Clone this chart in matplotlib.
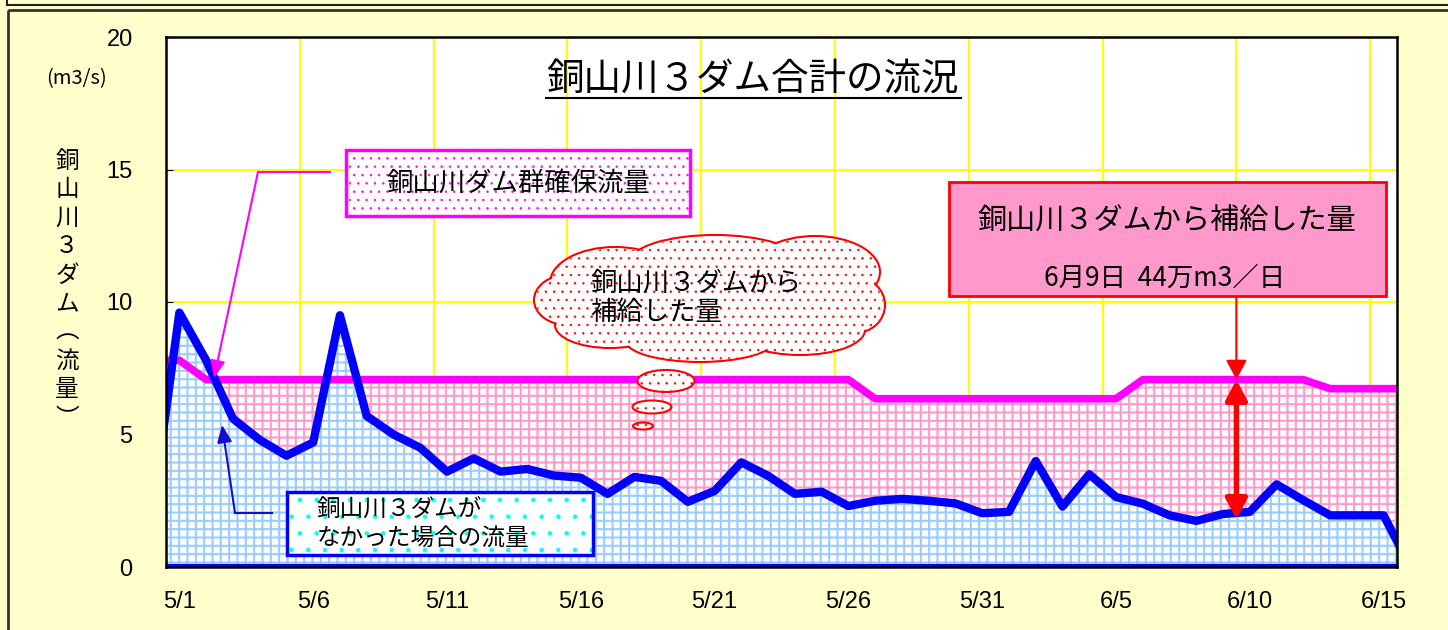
import numpy as np
import matplotlib.pyplot as plt
from matplotlib.patches import Rectangle, Ellipse

plt.rcParams['font.family'] = ['Noto Sans CJK JP', 'DejaVu Sans']
plt.rcParams['hatch.linewidth'] = 1.5

# daily values 4/30 .. 6/16 (first and last fall just outside the axis)
no_dam_flow = [2.2, 9.6, 7.8, 5.6, 4.8, 4.2, 4.7, 9.5, 5.7, 5.0,
               4.5, 3.6, 4.1, 3.6, 3.7, 3.45, 3.37, 2.76, 3.4, 3.25,
               2.46, 2.87, 3.95, 3.44, 2.76, 2.84, 2.3, 2.5, 2.57, 2.5,
               2.4, 2.03, 2.08, 4.0, 2.28, 3.5, 2.64, 2.39, 1.95, 1.74,
               2.0, 2.08, 3.12, 2.52, 1.95, 1.95, 1.95, 0.0]
secured_flow = [7.8, 7.8, 7.07, 7.07, 7.07, 7.07, 7.07, 7.07, 7.07, 7.07,
                7.07, 7.07, 7.07, 7.07, 7.07, 7.07, 7.07, 7.07, 7.07, 7.07,
                7.07, 7.07, 7.07, 7.07, 7.07, 7.07, 7.07, 6.35, 6.35, 6.35,
                6.35, 6.35, 6.35, 6.35, 6.35, 6.35, 6.35, 7.07, 7.07, 7.07,
                7.07, 7.07, 7.07, 7.07, 6.73, 6.73, 6.73, 6.73]
tick_days = [0, 5, 10, 15, 20, 25, 30, 35, 40, 45]
tick_labels = ['5/1', '5/6', '5/11', '5/16', '5/21', '5/26', '5/31', '6/5', '6/10', '6/15']
y_ticks = [0, 5, 10, 15, 20]

x = np.arange(len(no_dam_flow)) - 0.5


def dotted(p, lw=0.5):
    # thinner hatch lines for the dotted fills, where supported
    if hasattr(p, 'set_hatch_linewidth'):
        p.set_hatch_linewidth(lw)
    return p


fig = plt.figure(figsize=(14.48, 6.3), dpi=100, facecolor='#FFFFCC')
ax = fig.add_axes([166 / 1448, 63 / 630, 1231 / 1448, 530 / 630])
ax.set_facecolor('white')

ax.fill_between(x, 0, secured_flow, facecolor='white', edgecolor='#FF99CC',
                hatch='++', lw=0, zorder=1)
ax.fill_between(x, 0, no_dam_flow, facecolor='white', edgecolor='#99CCFF',
                hatch='++', lw=0, zorder=1.1)
ax.plot(x, secured_flow, color='#FF00FF', lw=5.5, zorder=3)
ax.plot(x, no_dam_flow, color='#0000FF', lw=6, zorder=4)
ax.axhline(0.05, color='#0000FF', lw=3, zorder=4)

ax.set_xlim(0, 46)
ax.set_ylim(0, 20)
ax.set_axisbelow(True)
ax.set_xticks(tick_days)
ax.set_xticklabels([])
ax.set_xticks([d + 0.5 for d in tick_days], tick_labels, minor=True)
ax.set_yticks(y_ticks)
ax.grid(True, which='major', color='#FFFF00', lw=1.5)
ax.tick_params(axis='x', which='major', direction='in', length=5, color='#444444')
ax.tick_params(axis='x', which='minor', length=0, pad=17, labelsize=17)
ax.tick_params(axis='y', direction='in', length=5, pad=24, labelsize=17)
for lbl in ax.get_xticklabels(minor=True) + ax.get_yticklabels():
    lbl.set_fontfamily('Liberation Sans')
for s in ax.spines.values():
    s.set_linewidth(1.8)
    s.set_zorder(5)

# red arrows: supplied amount on 6/9
ax.annotate('', xy=(40, 1.8), xytext=(40, 7.07),
            arrowprops=dict(arrowstyle='<|-|>,head_length=0.6,head_width=0.32',
                            mutation_scale=20, color='#FF0000', lw=4,
                            shrinkA=0, shrinkB=0), zorder=6)
ax.annotate('', xy=(40, 7.07), xytext=(40, 10.2),
            arrowprops=dict(arrowstyle='-|>,head_length=0.6,head_width=0.32',
                            mutation_scale=20, color='#FF0000', lw=1.5,
                            shrinkA=0, shrinkB=0), zorder=6)

# overlay in pixel coordinates for frames, labels and callouts
ov = fig.add_axes([0, 0, 1, 1], zorder=5)
ov.set_xlim(0, 1448)
ov.set_ylim(630, 0)
ov.axis('off')
ov.patch.set_alpha(0)

ov.add_patch(Rectangle((7, -10), 1450, 15, fill=False, ec='#222222', lw=1.5))
ov.add_patch(Rectangle((7.5, 9.5), 1450, 630, fill=False, ec='#333333', lw=2))

ov.text(753, 80, '銅山川３ダム合計の流況', fontsize=27, ha='center', va='center')
ov.plot([546, 961], [98, 98], color='black', lw=1.5)

ov.text(76, 79, '(m3/s)', fontsize=14.5, ha='center', va='center')
for i, ch in enumerate('銅山川３ダム︵流量︶'):
    ov.text(67, 161 + 28.6 * i, ch, fontsize=17, ha='center', va='center')

# legend: secured flow
ov.add_patch(dotted(Rectangle((346, 150), 344, 66, fc='white', ec='#FF00FF',
                              hatch='..', lw=0)))
ov.add_patch(Rectangle((346, 150), 344, 66, fc='none', ec='#FF00FF', lw=2.5))
ov.text(518, 183, '銅山川ダム群確保流量', fontsize=19, ha='center', va='center')
ov.plot([330, 258], [172, 172], color='#FF00FF', lw=1.5)
ov.annotate('', xy=(214, 378), xytext=(258, 172),
            arrowprops=dict(arrowstyle='-|>,head_length=0.7,head_width=0.3',
                            mutation_scale=15, color='#FF00FF', lw=1.5,
                            shrinkA=0, shrinkB=0))

# legend: flow without dams
ov.add_patch(dotted(Rectangle((287, 492), 306, 63, fc='white', ec='#00FFFF',
                              hatch='.', lw=0), 0.8))
ov.add_patch(Rectangle((287, 492), 306, 63, fc='none', ec='#0000FF', lw=2.5))
ov.text(317, 509, '銅山川３ダムが', fontsize=17, ha='left', va='center')
ov.text(317, 538, 'なかった場合の流量', fontsize=17, ha='left', va='center')
ov.plot([272, 235], [513, 513], color='#1010CC', lw=1.5)
ov.annotate('', xy=(222, 425), xytext=(235, 513),
            arrowprops=dict(arrowstyle='-|>,head_length=0.7,head_width=0.3',
                            mutation_scale=15, color='#1010CC', lw=1.5,
                            shrinkA=0, shrinkB=0))

# cloud callout
cloud = [(615, 283, 130, 72), (715, 262, 170, 54), (815, 272, 130, 72),
         (855, 305, 60, 56), (800, 330, 130, 50), (700, 340, 150, 44),
         (610, 325, 110, 46), (567, 300, 66, 50)]
for cx, cy, w, h in cloud:
    ov.add_patch(Ellipse((cx, cy), w, h, fc='white', ec='#FF0000', lw=1.5))
for cx, cy, w, h in cloud + [(710, 300, 280, 90)]:
    ov.add_patch(dotted(Ellipse((cx, cy), w - 3, h - 3, fc='white', ec='#FF0000',
                                hatch='..', lw=0)))
for cx, cy, w, h in [(666, 381, 57, 22), (652, 407, 39, 13), (643, 426, 20, 7)]:
    ov.add_patch(dotted(Ellipse((cx, cy), w, h, fc='white', ec='#FF0000',
                                hatch='..', lw=0)))
    ov.add_patch(Ellipse((cx, cy), w, h, fc='none', ec='#FF0000', lw=1.5))
ov.text(590, 283, '銅山川３ダムから', fontsize=19, ha='left', va='center')
ov.text(590, 312, '補給した量', fontsize=19, ha='left', va='center')

# supplied amount box
ov.add_patch(Rectangle((949, 182), 437, 114, fc='#FF99CC', ec='#FF0000', lw=2))
ov.text(1167, 222, '銅山川３ダムから補給した量', fontsize=21, ha='center', va='center')
ov.text(1165, 278, '6月9日  44万m3／日', fontsize=19, ha='center', va='center')

fig.savefig('out.png', dpi=100, facecolor=fig.get_facecolor())
